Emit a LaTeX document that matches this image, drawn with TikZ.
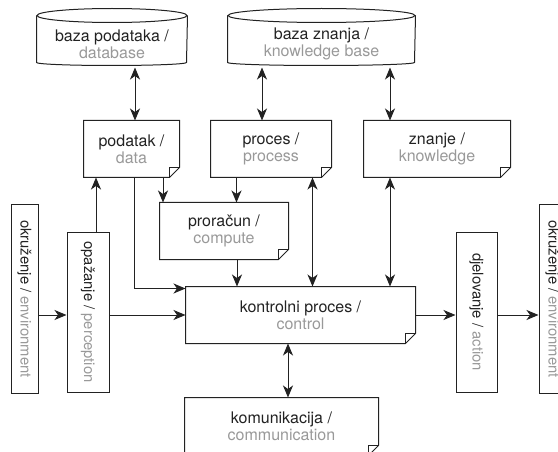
\documentclass[tikz,border=0pt]{standalone}
\usepackage{fontspec}
\usepackage{graphicx}
\setmainfont{TeX Gyre Heros}
\usetikzlibrary{arrows.meta}
\definecolor{lgray}{HTML}{999999}
\definecolor{dark}{HTML}{222222}
% note box with folded corner
\newcommand\docframe[1]{%
  \draw (#1.north west) -- (#1.north east) -- ([yshift=10pt]#1.south east)
    -- ([xshift=-10pt]#1.south east) -- (#1.south west) -- cycle;
  \draw ([yshift=10pt]#1.south east) -- ([xshift=-10pt,yshift=10pt]#1.south east)
    -- ([xshift=-10pt]#1.south east);}
% storage drum
\newcommand\cylframe[2]{%
  \draw ([yshift=7pt]#1.north west) -- ([yshift=3pt]#1.south west)
    arc[start angle=180, end angle=360, x radius=#2, y radius=3pt]
    -- ([yshift=7pt]#1.north east);
  \draw ([yshift=7pt]#1.north) ellipse [x radius=#2, y radius=7pt];}
\begin{document}
\begin{tikzpicture}[x=1pt, y=-1pt, line width=1pt, color=dark,
    b/.style = {align=center, inner sep=0pt, font=\fontsize{16}{17}\selectfont},
    v/.style = {b, draw, font=\fontsize{14.8}{16}\selectfont},
    a/.style = {-{Stealth[length=12pt, width=10pt, inset=3.5pt]}},
    aa/.style = {{Stealth[length=12pt, width=10pt, inset=3.5pt]}-{Stealth[length=12pt, width=10pt, inset=3.5pt]}}]
  \useasboundingbox (0,0) rectangle (558,452);
  % stores
  \node[b, minimum width=150pt, minimum height=42pt] at (112,44) (db) {baza podataka /\\\textcolor{lgray}{database}};
  \node[b, minimum width=187pt, minimum height=42pt] at (321.5,44) (kb) {baza znanja /\\\textcolor{lgray}{knowledge base}};
  \cylframe{db}{75pt}
  \cylframe{kb}{93.5pt}
  % notes
  \node[b, minimum width=95pt, minimum height=56pt] at (131.5,149) (data) {podatak /\\\textcolor{lgray}{data}};
  \node[b, minimum width=120pt, minimum height=56pt] at (271,149) (proc) {proces /\\\textcolor{lgray}{process}};
  \node[b, minimum width=146pt, minimum height=56pt] at (437,149) (know) {znanje /\\\textcolor{lgray}{knowledge}};
  \node[b, minimum width=128pt, minimum height=56pt] at (224,231) (comp) {proračun /\\\textcolor{lgray}{compute}};
  \node[b, minimum width=229pt, minimum height=56pt] at (300.5,315) (ctrl) {kontrolni proces /\\\textcolor{lgray}{control}};
  \node[b, minimum width=193pt, minimum height=57pt] at (281.5,426.5) (comm) {komunikacija /\\\textcolor{lgray}{communication}};
  \docframe{data}
  \docframe{proc}
  \docframe{know}
  \docframe{comp}
  \docframe{ctrl}
  \docframe{comm}
  % upright boxes
  \node[v, minimum width=27pt, minimum height=188pt] at (24.5,299) (envl) {\rotatebox{-90}{okruženje / \textcolor{lgray}{environment}}};
  \node[v, minimum width=42pt, minimum height=160pt] at (88,312) (perc) {\rotatebox{-90}{opažanje / \textcolor{lgray}{perception}}};
  \node[v, minimum width=41pt, minimum height=160pt] at (476.5,312) (act) {\rotatebox{-90}{djelovanje / \textcolor{lgray}{action}}};
  \node[v, minimum width=27pt, minimum height=188pt] at (552.5,299) (envr) {\rotatebox{-90}{okruženje / \textcolor{lgray}{environment}}};
  % arrows
  \draw[aa, shorten <=2pt] ([xshift=23pt]db.south) -- ([xshift=3.5pt]data.north);
  \draw[aa, shorten <=2pt] ([xshift=-59.5pt]kb.south) -- ([xshift=-9pt]proc.north);
  \draw[aa, shorten <=2pt] ([xshift=68.5pt]kb.south) -- ([xshift=-47pt]know.north);
  \draw[a] ([xshift=8pt]perc.north) -- ([xshift=-35.5pt]data.south);
  \draw[a] ([xshift=31.5pt]data.south) -- ([xshift=-61pt]comp.north);
  \draw[a] ([xshift=-34.5pt]proc.south) -- ([xshift=12.5pt]comp.north);
  \draw[a] ([xshift=2.5pt]data.south) |- ([yshift=-2pt]ctrl.north west);
  \draw[a] ([xshift=13pt]comp.south) -- ([xshift=-63.5pt]ctrl.north);
  \draw[aa] ([xshift=41.5pt]proc.south) -- ([xshift=12pt]ctrl.north);
  \draw[aa] ([xshift=-47pt]know.south) -- ([xshift=89.5pt]ctrl.north);
  \draw[a] (envl.east |- ctrl) -- (perc.west |- ctrl);
  \draw[a] (perc.east |- ctrl) -- (ctrl.west);
  \draw[a] (ctrl.east) -- (act.west |- ctrl);
  \draw[a] (act.east |- ctrl) -- (envr.west |- ctrl);
  \draw[aa] ([xshift=-12.5pt]ctrl.south) -- ([xshift=6.5pt]comm.north);
\end{tikzpicture}
\end{document}
